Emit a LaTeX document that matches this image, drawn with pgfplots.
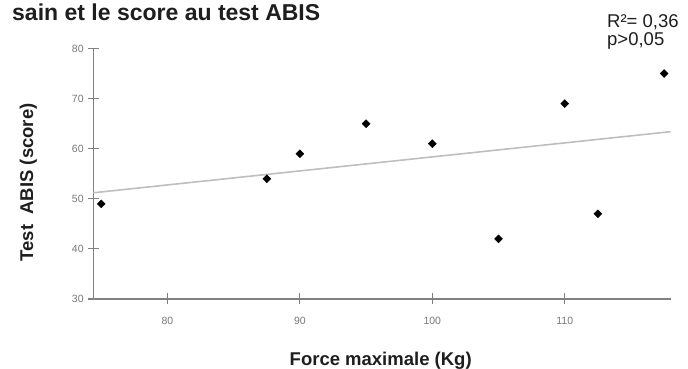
\documentclass[border=0pt]{standalone}
\usepackage{pgfplots}
\pgfplotsset{compat=1.18}
\usepackage{fontspec}
\setmainfont{Liberation Sans}
\definecolor{axgrey}{RGB}{128,128,128}
\definecolor{fitgrey}{RGB}{190,190,190}
\definecolor{txt}{RGB}{30,30,30}
\definecolor{ticktxt}{RGB}{120,120,120}
\begin{document}
\begin{tikzpicture}[x=1pt,y=1pt]
\useasboundingbox (0,0) rectangle (688,369);
\begin{axis}[
  at={(93.3pt,70pt)}, anchor=south west,
  scale only axis, width=577.4pt, height=250.5pt,
  xmin=74.4, xmax=118, ymin=30, ymax=80,
  enlargelimits=false, clip=false,
  axis x line=bottom, axis y line=left,
  axis line style={-, draw=axgrey, line width=1.6pt},
  tick align=center, major tick length=11pt,
  tick style={draw=axgrey, line width=1.2pt},
  xtick={80,90,100,110}, ytick={30,40,50,60,70,80},
  /pgf/number format/assume math mode=true,
  tick label style={font=\fontsize{10.5}{12}\selectfont, text=ticktxt},
  xticklabel style={inner sep=0pt, anchor=north, yshift=-12pt},
  yticklabel style={inner sep=0pt, anchor=east, xshift=-4pt},
]
\addplot[fitgrey, line width=1.6pt] coordinates {(74.4,51.2) (118,63.4)};
\addplot[only marks, mark=diamond*, mark size=4pt, mark options={xscale=1.33, fill=black, draw=black}]
  coordinates {(75,49) (87.5,54) (90,59) (95,65) (100,61) (105,42) (110,69) (112.5,47) (117.5,75)};
\end{axis}
\node[anchor=base west, inner sep=0pt, text=txt, font=\fontsize{23}{26}\selectfont\bfseries] at (12,348.3) {sain et le score au test ABIS};
\node[anchor=base west, inner sep=0pt, text=txt, font=\fontsize{18.5}{21}\selectfont] at (607,341.7) {R²= 0,36};
\node[anchor=base west, inner sep=0pt, text=txt, font=\fontsize{18.5}{21}\selectfont] at (607,323.5) {p>0,05};
\node[anchor=base, inner sep=0pt, rotate=90, text=txt, font=\fontsize{18.5}{21}\selectfont\bfseries] at (33,186.6) {Test\ \ ABIS (score)};
\node[anchor=base, inner sep=0pt, text=txt, font=\fontsize{18.5}{21}\selectfont\bfseries] at (380.7,3) {Force maximale (Kg)};
\end{tikzpicture}
\end{document}
